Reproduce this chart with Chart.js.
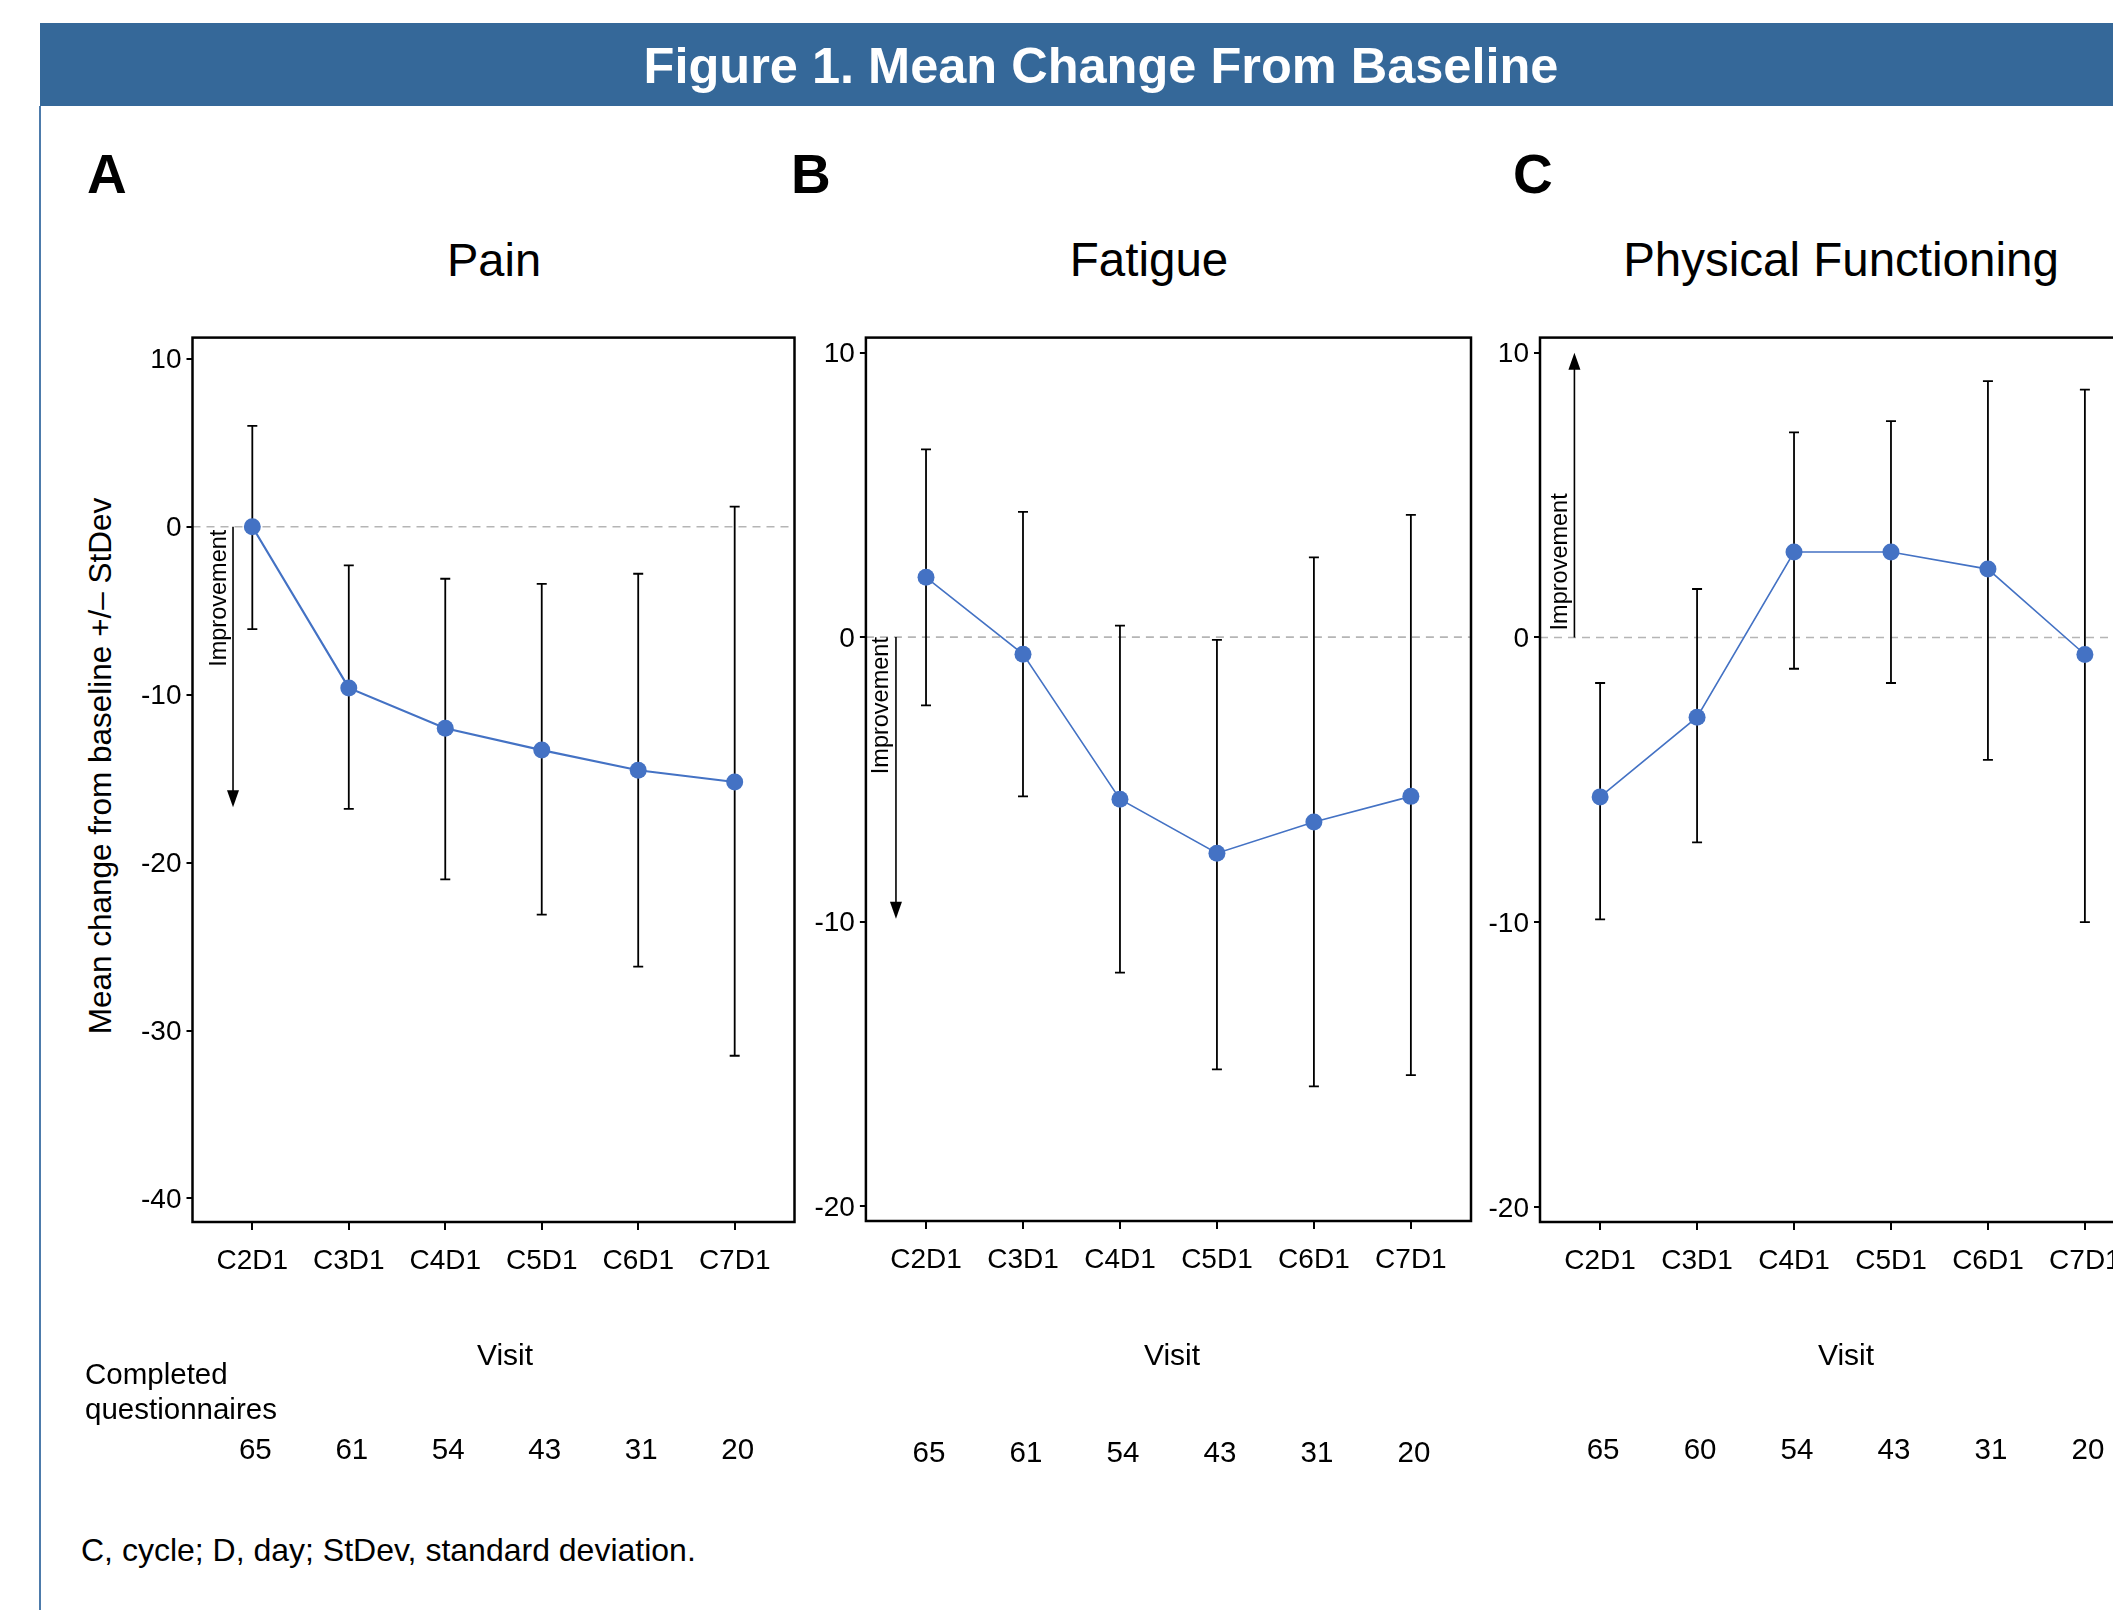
<!DOCTYPE html>
<html>
<head>
<meta charset="utf-8">
<title>Figure 1. Mean Change From Baseline</title>
<script src="https://cdn.jsdelivr.net/npm/chart.js@4.4.1/dist/chart.umd.min.js"></script>
<style>
  html, body { margin: 0; padding: 0; width: 2113px; height: 1610px; overflow: hidden; background: #fff; }
  body { position: relative; font-family: "Liberation Sans", Arial, sans-serif; color: #000; }
  .t { position: absolute; white-space: nowrap; line-height: 1; }
  .c { transform: translate(-50%, -50%); }
  .l { transform: translateY(-50%); }
  #header { position: absolute; left: 40px; top: 23px; width: 2073px; height: 83px; background: #356899; }
  #rule { position: absolute; left: 39px; top: 106px; width: 2px; height: 1504px; background: #4d7bab; }
  canvas { position: absolute; }
</style>
</head>
<body>
<div id="header"></div>
<div class="t c" style="left:1101px; top:66px; font-size:50.5px; font-weight:bold; color:#fff;">Figure 1. Mean Change From Baseline</div>
<div id="rule"></div>

<div class="t l" style="left:87px; top:174px; font-size:55px; font-weight:bold;">A</div>
<div class="t l" style="left:791px; top:174px; font-size:55px; font-weight:bold;">B</div>
<div class="t l" style="left:1513px; top:174px; font-size:55px; font-weight:bold;">C</div>

<div class="t c" style="left:494px; top:259px; font-size:47px;">Pain</div>
<div class="t c" style="left:1149px; top:260px; font-size:47.5px;">Fatigue</div>
<div class="t c" style="left:1841px; top:260px; font-size:47.5px;">Physical Functioning</div>

<div class="t c" style="left:101px; top:766px; font-size:31.5px; transform: translate(-50%, -50%) rotate(-90deg);">Mean change from baseline +/– StDev</div>

<canvas id="painChart" width="720" height="1200" style="left:100px; top:300px;"></canvas>
<canvas id="fatigueChart" width="720" height="1200" style="left:780px; top:300px;"></canvas>
<canvas id="physChart" width="720" height="1200" style="left:1455px; top:300px;"></canvas>

<div class="t c" style="left:505px; top:1355px; font-size:30px;">Visit</div>
<div class="t c" style="left:1172px; top:1355px; font-size:30px;">Visit</div>
<div class="t c" style="left:1846px; top:1355px; font-size:30px;">Visit</div>

<div class="t l" style="left:85px; top:1374px; font-size:29.5px;">Completed</div>
<div class="t l" style="left:85px; top:1409px; font-size:29.5px;">questionnaires</div>

<div class="t l" style="left:81px; top:1550px; font-size:32px;">C, cycle; D, day; StDev, standard deviation.</div>

<script>
const visits = ['C2D1', 'C3D1', 'C4D1', 'C5D1', 'C6D1', 'C7D1'];

// Pain
const painMean = [0, -9.6, -12.0, -13.3, -14.5, -15.2];
const painUpper = [6.0, -2.3, -3.1, -3.4, -2.8, 1.2];
const painLower = [-6.1, -16.8, -21.0, -23.1, -26.2, -31.5];
const painN = [65, 61, 54, 43, 31, 20];
const painTicks = [10, 0, -10, -20, -30, -40];

// Fatigue
const fatigueMean = [2.1, -0.6, -5.7, -7.6, -6.5, -5.6];
const fatigueUpper = [6.6, 4.4, 0.4, -0.1, 2.8, 4.3];
const fatigueLower = [-2.4, -5.6, -11.8, -15.2, -15.8, -15.4];
const fatigueN = [65, 61, 54, 43, 31, 20];
const fatigueTicks = [10, 0, -10, -20];

// Physical functioning
const physMean = [-5.6, -2.8, 3.0, 3.0, 2.4, -0.6];
const physUpper = [-1.6, 1.7, 7.2, 7.6, 9.0, 8.7];
const physLower = [-9.9, -7.2, -1.1, -1.6, -4.3, -10.0];
const physN = [65, 60, 54, 43, 31, 20];
const physTicks = [10, 0, -10, -20];

const FONT = '"Liberation Sans", Arial, sans-serif';
const BLUE = '#4472c4';

const makePanel = (id, cfg) => {
  const extras = {
    id: 'extras',
    beforeDatasetsDraw(chart) {
      const { ctx, chartArea: a, scales: { x, y } } = chart;
      ctx.save();

      // dashed reference line at 0
      const y0 = y.getPixelForValue(0);
      ctx.strokeStyle = '#b5b5b5';
      ctx.lineWidth = 1.6;
      ctx.setLineDash([8, 6]);
      ctx.beginPath();
      ctx.moveTo(a.left, y0);
      ctx.lineTo(a.right, y0);
      ctx.stroke();
      ctx.setLineDash([]);

      // error bars (mean +/- sd)
      ctx.strokeStyle = '#000';
      ctx.lineWidth = 1.8;
      cfg.lower.forEach((lo, i) => {
        const px = x.getPixelForValue(i);
        const top = y.getPixelForValue(cfg.upper[i]);
        const bot = y.getPixelForValue(lo);
        ctx.beginPath();
        ctx.moveTo(px, top); ctx.lineTo(px, bot);
        ctx.moveTo(px - 5, top); ctx.lineTo(px + 5, top);
        ctx.moveTo(px - 5, bot); ctx.lineTo(px + 5, bot);
        ctx.stroke();
      });

      // improvement arrow
      const ax = x.getPixelForValue(cfg.arrow.x);
      const ay1 = y.getPixelForValue(cfg.arrow.to);
      const dir = ay1 > y0 ? 1 : -1;
      ctx.fillStyle = '#000';
      ctx.lineWidth = 1.6;
      ctx.beginPath();
      ctx.moveTo(ax, y0);
      ctx.lineTo(ax, ay1 - dir * 12);
      ctx.stroke();
      ctx.beginPath();
      ctx.moveTo(ax, ay1);
      ctx.lineTo(ax - 6, ay1 - dir * 17);
      ctx.lineTo(ax + 6, ay1 - dir * 17);
      ctx.closePath();
      ctx.fill();

      ctx.save();
      ctx.translate(ax - 14, y0 + dir * cfg.arrow.gap);
      ctx.rotate(-Math.PI / 2);
      ctx.font = '23.5px ' + FONT;
      ctx.textAlign = dir > 0 ? 'right' : 'left';
      ctx.textBaseline = 'middle';
      ctx.fillText('Improvement', 0, 0);
      ctx.restore();

      // panel frame
      ctx.strokeStyle = '#000';
      ctx.lineWidth = 2.5;
      ctx.strokeRect(a.left, a.top, a.width, a.height);
      ctx.restore();
    },
    afterDraw(chart) {
      // completed questionnaires under each visit
      const { ctx, scales: { x } } = chart;
      ctx.save();
      ctx.font = '29.5px ' + FONT;
      ctx.fillStyle = '#000';
      ctx.textAlign = 'center';
      ctx.textBaseline = 'middle';
      cfg.n.forEach((v, i) => ctx.fillText(String(v), x.getPixelForValue(i) + 3, cfg.nY));
      ctx.restore();
    }
  };

  return new Chart(document.getElementById(id), {
    type: 'line',
    data: {
      datasets: [{
        data: cfg.mean.map((v, i) => ({ x: i, y: v })),
        borderColor: BLUE,
        backgroundColor: BLUE,
        borderWidth: cfg.lw,
        pointRadius: 8.5,
        pointHoverRadius: 8.5,
        pointBorderWidth: 0,
        tension: 0
      }]
    },
    options: {
      responsive: false,
      animation: false,
      devicePixelRatio: 1,
      events: [],
      layout: { padding: cfg.pad },
      plugins: { legend: { display: false }, tooltip: { enabled: false } },
      scales: {
        x: {
          type: 'linear',
          min: -0.62,
          max: 5.62,
          afterBuildTicks: (s) => { s.ticks = visits.map((_, i) => ({ value: i })); },
          afterFit: (s) => { s.height = 278; },
          ticks: {
            callback: (v) => visits[v],
            font: { family: FONT, size: 28 },
            color: '#000',
            padding: 14,
            maxRotation: 0,
            autoSkip: false
          },
          grid: { drawOnChartArea: false, tickLength: 8, color: '#000', lineWidth: 2 },
          border: { display: false }
        },
        y: {
          min: cfg.yMin,
          max: cfg.yMax,
          afterBuildTicks: (s) => { s.ticks = cfg.ticks.map((v) => ({ value: v })); },
          afterFit: (s) => { s.width = 80; },
          ticks: {
            callback: (v) => String(v),
            font: { family: FONT, size: 28 },
            color: '#000',
            padding: 5,
            labelOffset: 2
          },
          grid: { drawOnChartArea: false, tickLength: 6, color: '#000', lineWidth: 2 },
          border: { display: false }
        }
      }
    },
    plugins: [extras]
  });
};

makePanel('painChart', {
  mean: painMean, upper: painUpper, lower: painLower, n: painN, ticks: painTicks,
  yMin: -41.4, yMax: 11.26, lw: 2.2, nY: 1151,
  pad: { top: 37.6, left: 12.5, right: 25.5, bottom: 0 },
  arrow: { x: -0.2, to: -16.7, gap: 3 }
});

makePanel('fatigueChart', {
  mean: fatigueMean, upper: fatigueUpper, lower: fatigueLower, n: fatigueN, ticks: fatigueTicks,
  yMin: -20.53, yMax: 10.53, lw: 1.6, nY: 1153.5,
  pad: { top: 37.6, left: 5.9, right: 29, bottom: 1 },
  arrow: { x: -0.31, to: -9.9, gap: 0 }
});

makePanel('physChart', {
  mean: physMean, upper: physUpper, lower: physLower, n: physN, ticks: physTicks,
  yMin: -20.53, yMax: 10.53, lw: 1.6, nY: 1151,
  pad: { top: 37.6, left: 5, right: 30, bottom: 0 },
  arrow: { x: -0.265, to: 10.0, gap: 7 }
});
</script>
</body>
</html>
